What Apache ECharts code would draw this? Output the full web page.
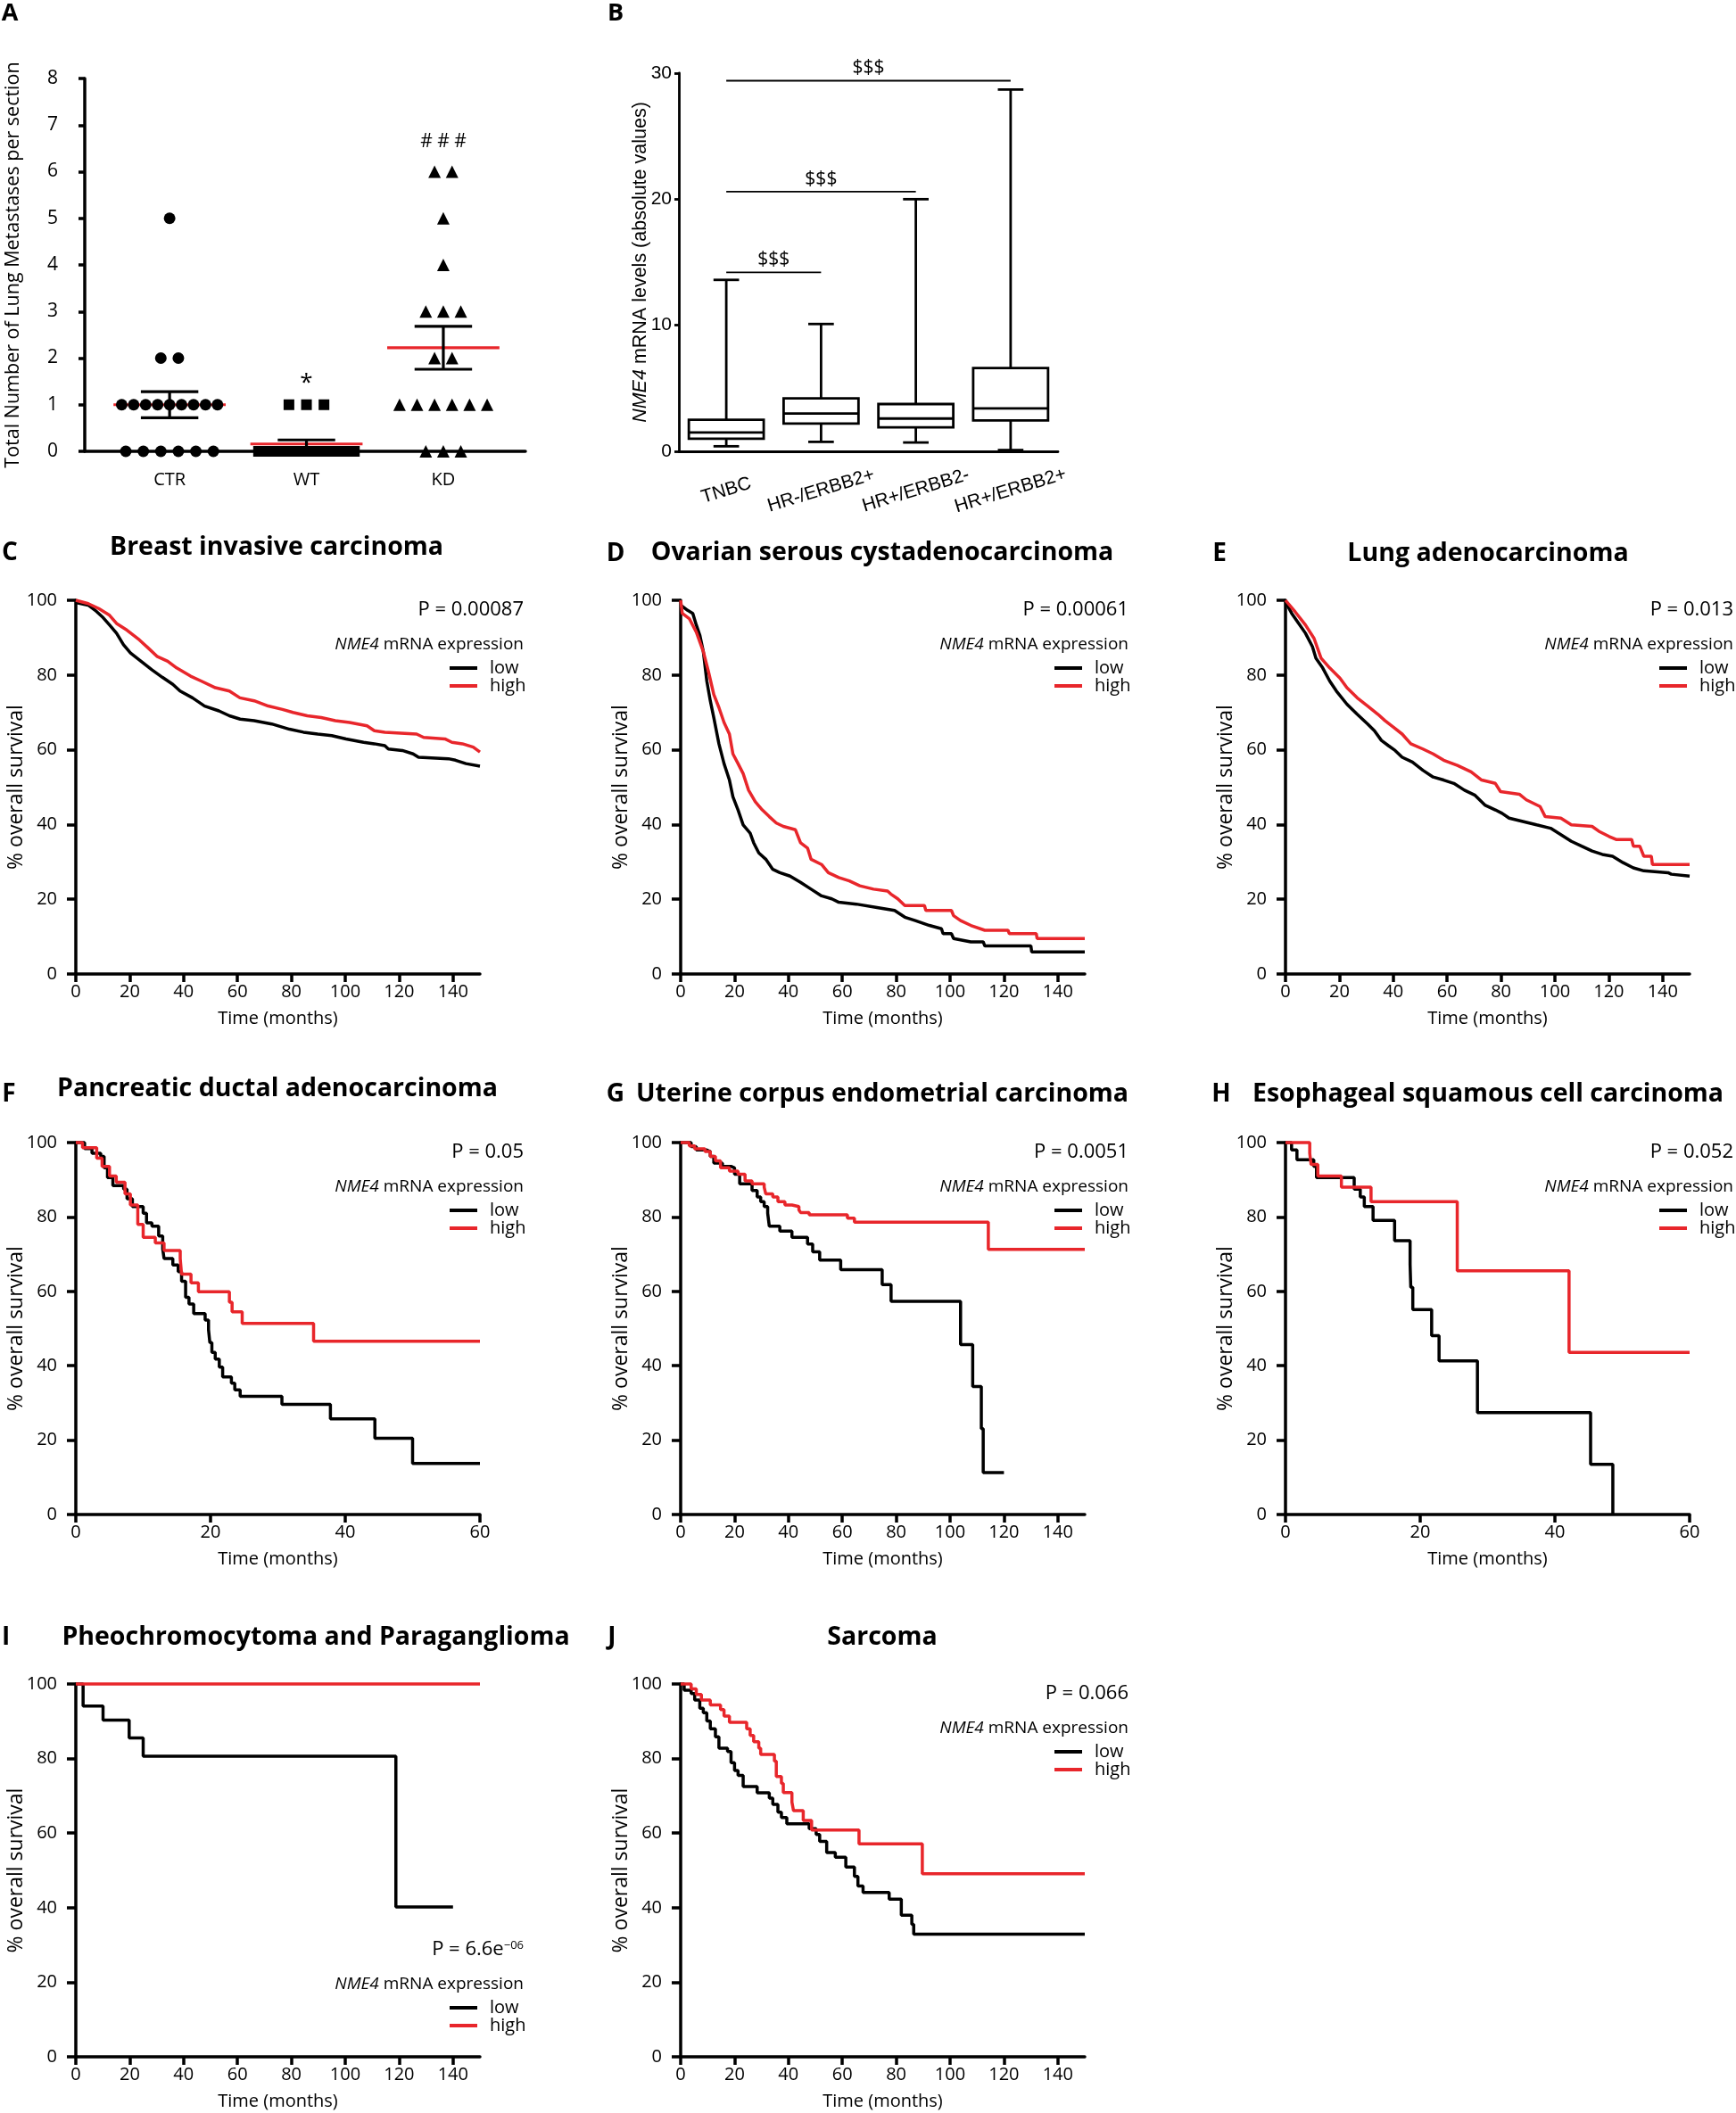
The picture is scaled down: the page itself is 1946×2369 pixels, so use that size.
<!DOCTYPE html>
<html>
<head>
<meta charset="utf-8">
<script src="https://cdn.jsdelivr.net/npm/echarts@6/dist/echarts.min.js"></script>
<style>
  html, body { margin: 0; padding: 0; background: #fff; }
  #chart { width: 1946px; height: 2369px; }
</style>
</head>
<body>
<div id="chart"></div>
<script>
// ---------- Panel A: lung metastases per section ----------
const groupsA = ['CTR', 'WT', 'KD'];
const ctrValues = [5, 2, 2, 1, 1, 1, 1, 1, 1, 1, 1, 1, 0, 0, 0, 0, 0, 0];
const wtValues = [1, 1, 1, 0, 0, 0, 0, 0, 0, 0, 0, 0, 0, 0, 0, 0, 0, 0, 0];
const kdValues = [6, 6, 5, 4, 3, 3, 3, 2, 2, 1, 1, 1, 1, 1, 1, 0, 0, 0];
const marksA = [[2, 1.47], [3, 6.65]];
const marksAText = ['*', '# # #'];

// ---------- Panel B: NME4 mRNA by subtype [min, Q1, median, Q3, max] ----------
const subtypes = ['TNBC', 'HR-/ERBB2+', 'HR+/ERBB2-', 'HR+/ERBB2+'];
const boxTNBC = [0.4, 1.0, 1.5, 2.5, 13.6];
const boxHRnegERBB2pos = [0.75, 2.2, 3.0, 4.2, 10.1];
const boxHRposERBB2neg = [0.7, 1.9, 2.6, 3.75, 20.0];
const boxHRposERBB2pos = [0.1, 2.45, 3.4, 6.6, 28.7];
const sigLines = [[0, 1, 14.2], [0, 2, 20.6], [0, 3, 29.4]];

// ---------- Kaplan-Meier curves [months, % survival] ----------
const breastLow = [[0,99.4],[4.6,98.7],[7.2,97.3],[9.8,95.6],[12.5,93.4],[15.1,91.2],[17.7,88.1],[20.3,85.9],[24.2,83.7],[28.2,81.4],[32.1,79.4],[36,77.5],[38.7,75.7],[43.3,73.9],[47.8,71.7],[53.1,70.4],[57,69.1],[61,68.2],[66.2,67.8],[72.7,66.9],[79.3,65.5],[84.5,64.7],[89.8,64.2],[95,63.8],[100.3,62.9],[106.8,62],[110.8,61.6],[114.7,61.1],[116,60.2],[121.2,59.8],[125.2,58.9],[127.2,58],[138.3,57.6],[140.9,57.2],[144.8,56.3],[150,55.6]];
const breastHigh = [[0,100],[4.6,99.1],[8.5,97.8],[12.5,96],[15.1,93.8],[19,92],[23.6,89.4],[26.9,87.2],[30.1,85],[34.1,83.7],[37.4,81.9],[42.6,79.7],[46.5,78.4],[51.8,76.6],[57,75.7],[60.9,73.9],[66.2,73.1],[71.4,71.7],[76.7,70.8],[80.6,70],[85.9,69.1],[91.1,68.6],[96.3,67.8],[101.6,67.3],[108.1,66.4],[110.8,65.1],[114.7,64.7],[126.5,64.2],[129.1,63.3],[137,62.9],[139.6,62],[143.5,61.6],[147.5,60.7],[150,59.4]];
const ovarianLow = [[0,98.7],[2.6,97.3],[4.5,96.5],[5.8,93.4],[7.1,90.7],[8.4,86.3],[9.7,78.4],[11,73.1],[12.3,68.6],[14.2,61.6],[16.1,56.3],[18.1,51.9],[19.4,47.4],[21.3,43.9],[23.2,39.9],[25.8,37.7],[27.1,35.1],[29,32.4],[31.6,30.7],[34.2,28],[36.8,27.1],[40.6,26.2],[44.5,24.5],[48.4,22.7],[52.3,20.9],[56.1,20.1],[58.7,19.2],[65.2,18.7],[72.9,17.8],[79.4,17],[83.2,15.2],[87.1,14.3],[92.3,13],[96.8,12.1],[97.4,10.8],[100.5,10.8],[101.3,9.5],[107.7,8.6],[112.3,8.6],[112.9,7.5],[130,7.5],[130.3,5.9],[150,5.9]];
const ovarianHigh = [[0,100],[0.6,96.5],[3.2,95.1],[5.8,91.5],[8.4,86.3],[10.3,81],[12.3,74.8],[14.2,71.3],[16.1,67.3],[18.1,64.2],[19.4,58.9],[21.3,56.3],[23.2,53.6],[25.2,49.2],[27.7,46.1],[30.3,43.9],[32.9,42.1],[35.5,40.4],[38.1,39.5],[42.6,38.6],[44.5,35.1],[47.1,33.7],[48.4,30.7],[52.3,29.3],[54.8,27.1],[58.7,25.8],[62.6,24.9],[66.5,23.6],[71.6,22.7],[76.8,22.2],[78,21.4],[80.6,20.1],[83.2,18.3],[90.5,18.3],[91,17],[100.5,17],[101.3,15.6],[103.9,14.3],[107.7,13],[112.9,11.7],[121.5,11.7],[122,10.8],[132,10.8],[132.3,9.5],[150,9.5]];
const lungLow = [[0,99.6],[2.3,96.5],[4.9,93.8],[7.4,91.2],[10,87.6],[11.3,84.5],[13.8,81.9],[16.4,78.4],[18.9,75.7],[22.8,72.2],[26.6,69.5],[30.5,66.9],[33,65.1],[35.6,62.5],[38.2,61.1],[40.7,59.8],[43.3,58],[47.1,56.7],[51,54.5],[54.8,52.7],[58.7,51.9],[62.5,51],[66.4,49.2],[70.2,47.9],[74,45.2],[77.9,43.9],[80.4,43],[83,41.7],[88.1,40.8],[93.2,39.9],[98.4,39],[102.2,37.3],[106.1,35.5],[109.9,34.2],[113.8,32.9],[117.6,32],[121.4,31.5],[125.3,29.8],[129.1,28.4],[133,27.6],[142,27.1],[143.2,26.7],[150,26.2]];
const lungHigh = [[0,100],[3.6,96.9],[7.4,93.4],[10.6,89.8],[13.2,84.5],[16.4,81.9],[20.2,79.2],[22.8,76.6],[26.6,73.9],[30.5,71.7],[34.3,69.5],[36.9,67.8],[40.1,66],[43.3,64.2],[46.5,61.6],[51,60.2],[54.8,58.9],[58.7,57.2],[63.8,55.8],[68.9,54.1],[72.8,51.9],[77.9,51],[79.8,48.8],[86.8,48.1],[89.4,46.6],[94.5,44.8],[96.4,42.1],[102.2,41.7],[106.1,39.9],[113.8,39.5],[116.3,38.2],[120.1,36.8],[122.7,36],[128.5,36],[129.1,34.2],[131.5,34.2],[133,31.5],[135.8,31.5],[136.2,29.3],[150,29.3]];
const pancreasLow = [[0,100],[1.3,98.4],[2.4,97.1],[3.7,96.3],[4.2,93.2],[4.7,90.6],[5.5,88.4],[7.1,87.5],[7.6,84.9],[8.4,82.8],[10,81],[10.5,78.4],[11.3,77.5],[12.3,74.9],[12.9,71.4],[13.1,68.8],[14.4,67.1],[15.2,65.3],[15.7,62.7],[16.3,58.4],[16.8,56.6],[17.5,54],[19.2,52.3],[19.7,49.7],[19.9,46.2],[20.2,43.6],[20.7,41.8],[21.3,39.6],[21.8,37],[23.1,35.3],[23.6,33.5],[24.4,31.8],[30.6,29.6],[37.8,25.7],[44.4,20.5],[50,13.7],[60,13.7]];
const pancreasHigh = [[0,100],[1,98.6],[3.1,95.8],[3.9,93.6],[5,91],[6,89.3],[7.3,86.2],[8.1,83.2],[9.2,78],[10,74.5],[11.8,73],[13.1,71],[15.5,68.8],[15.7,64.6],[17.1,62.3],[18.2,59.9],[22.8,57.1],[23.2,54.5],[24.7,51.4],[35.3,46.6],[60,46.6]];
const uterineLow = [[0,100],[3.9,98.9],[5.8,98],[9.7,97.6],[11,96.3],[12.3,94.5],[15.5,93.6],[18.7,93.2],[20,91.5],[21.9,88.9],[26.5,87.1],[28.4,85.4],[29.7,84.1],[31,82.8],[32.3,81],[32.9,77.5],[36.8,76.2],[41.3,74.5],[47.1,72.7],[49,70.6],[51.6,68.4],[59.4,65.8],[74.8,61.8],[78.1,57.3],[103.9,45.7],[108.4,34.4],[111.6,23.1],[112.3,11.3],[120,11.3]];
const uterineHigh = [[0,100],[3.2,99.1],[5.2,98.3],[9,97.6],[11,96.3],[12.9,95.1],[14.8,93.2],[18.1,92.3],[21.3,91.5],[23.9,89.7],[26.5,88.9],[31,88],[31.6,86.2],[34.2,85.4],[36.1,84.1],[38.7,83.2],[41.3,82.8],[43.9,81.9],[44.5,81.2],[47.7,80.6],[61.9,79.7],[64.5,78.6],[114.2,71.3],[150,71.3]];
const esophagusLow = [[0,100],[0.9,98],[1.7,95.4],[4.2,93.6],[4.6,90.6],[10.2,87.5],[11.1,85.4],[11.7,82.8],[13,79.1],[16.2,73.6],[18.5,67.2],[18.6,61.1],[18.9,55.1],[21.7,48.1],[22.8,41.3],[28.5,27.4],[45.3,13.5],[48.6,0]];
const esophagusHigh = [[0,100],[3.6,97.1],[3.8,94.1],[4.8,91],[8.3,88],[12.7,84.1],[25.5,65.5],[42.1,43.6],[60,43.6]];
const pheoLow = [[0,100],[2.7,94.1],[10.1,90.3],[19.8,85.5],[25,80.6],[118.8,40.2],[140,40.2]];
const pheoHigh = [[0,100],[150,100]];
const sarcomaLow = [[0,100],[1.3,98.3],[3.9,97.4],[5.2,95.7],[7.1,93.5],[8.4,92.3],[9.7,90.1],[11,88],[12.9,85.8],[14.2,82.8],[17.4,81.9],[18.7,78.9],[20,76.8],[21.3,75.5],[23.2,72.5],[28.4,70.8],[32.9,69.4],[34.2,67.7],[36.1,65.6],[37.4,64.2],[39.4,62.5],[47.7,61.2],[50.3,59.6],[51.6,57.8],[54.2,54.8],[57.4,53.5],[61.3,50.9],[64.5,48.4],[65.8,45.8],[67.7,44.1],[77.4,42.3],[81.9,38],[85.8,35.5],[86.5,32.9],[150,32.9]];
const sarcomaHigh = [[0,100],[3.9,98.7],[5.8,97.2],[7.7,95.7],[11,94.4],[14.8,93.1],[16.1,91.4],[18.1,89.7],[24.5,88],[25.8,86.2],[27.1,84.5],[29,82.8],[29.7,81.1],[34.8,79.3],[35.5,75.2],[37.4,73.3],[38.1,70.9],[41.3,68.3],[41.9,66],[45.5,63.4],[48.6,60.8],[66.2,57.1],[89.7,49.1],[150,49.1]];
const ticks150 = [0, 20, 40, 60, 80, 100, 120, 140];
const ticks60 = [0, 20, 40, 60];

const FONT = '"Open Sans", Lato, sans-serif';
const ARIAL = '"Liberation Sans", Arial, sans-serif';
const RED = '#e8262b';

const grids = [], xAxes = [], yAxes = [], series = [], legends = [], texts = [];

function txt(x, y, text, size, extra) {
  return { type: 'text', x, y, silent: true, z: 10,
    style: Object.assign({ text, fontSize: size, fontFamily: FONT, fill: '#000', align: 'left', verticalAlign: 'middle' }, extra || {}) };
}
const axisLine = w => ({ show: true, onZero: false, lineStyle: { color: '#000', width: w } });

// ---------- Panel A ----------
function jitter(values, center) {
  const counts = {}, seen = {};
  values.forEach(v => { counts[v] = (counts[v] || 0) + 1; });
  return values.map(v => {
    const n = counts[v];
    seen[v] = (seen[v] === undefined ? -1 : seen[v]) + 1;
    const step = n > 1 ? Math.min(0.128, 0.70 / (n - 1)) : 0;
    return [center + (seen[v] - (n - 1) / 2) * step, v];
  });
}
function meanSem(vals) {
  const n = vals.length;
  const m = vals.reduce((a, b) => a + b, 0) / n;
  const sd = Math.sqrt(vals.reduce((a, b) => a + (b - m) * (b - m), 0) / (n - 1));
  return [m, sd / Math.sqrt(n)];
}

grids.push({ left: 95, top: 88, width: 494, height: 418, outerBoundsMode: 'none' });
xAxes.push({
  gridIndex: 0, type: 'value', min: 0.38, max: 3.6,
  axisLine: axisLine(3.5), axisTick: { show: false }, splitLine: { show: false },
  axisLabel: { customValues: [1, 2, 3], formatter: v => groupsA[Math.round(v) - 1],
    fontSize: 20, fontFamily: FONT, color: '#000', margin: 22 }
});
yAxes.push({
  gridIndex: 0, type: 'value', min: 0, max: 8, interval: 1,
  axisLine: axisLine(3.5), axisTick: { show: true, length: 7, lineStyle: { color: '#000', width: 3.5 } },
  splitLine: { show: false },
  axisLabel: { fontSize: 21, fontFamily: FONT, color: '#000', margin: 30 },
  name: 'Total Number of Lung Metastases per section', nameLocation: 'middle', nameGap: 69,
  nameMoveOverlap: false,
  nameTextStyle: { fontSize: 21.5, fontFamily: FONT, color: '#000' }
});
const groupVals = [ctrValues, wtValues, kdValues];
series.push({
  type: 'custom', xAxisIndex: 0, yAxisIndex: 0, z: 1,
  data: groupVals.map((vals, i) => [i + 1].concat(meanSem(vals))),
  encode: { x: 0, y: 1 },
  renderItem: (params, api) => {
    const x = api.value(0), m = api.value(1), s = api.value(2);
    const seg = (a, b, c, d, color) => {
      const p1 = api.coord([a, b]), p2 = api.coord([c, d]);
      return { type: 'line', shape: { x1: p1[0], y1: p1[1], x2: p2[0], y2: p2[1] }, style: { stroke: color, lineWidth: 3.2 } };
    };
    return { type: 'group', children: [
      seg(x - 0.41, m, x + 0.41, m, RED),
      seg(x, m - s, x, m + s, '#000'),
      seg(x - 0.21, m + s, x + 0.21, m + s, '#000'),
      seg(x - 0.21, m - s, x + 0.21, m - s, '#000')
    ] };
  }
});
const symbolsA = [['circle', 13], ['rect', 12], ['triangle', 14]];
groupVals.forEach((vals, i) => {
  series.push({
    type: 'scatter', xAxisIndex: 0, yAxisIndex: 0, z: 3, clip: false,
    symbol: symbolsA[i][0], symbolSize: symbolsA[i][1],
    itemStyle: { color: '#000', opacity: 1 }, data: jitter(vals, i + 1)
  });
});
series.push({
  type: 'custom', xAxisIndex: 0, yAxisIndex: 0, z: 4, data: marksA, encode: { x: 0, y: 1 },
  renderItem: (params, api) => {
    const c = api.coord([api.value(0), api.value(1)]);
    return { type: 'text', x: c[0], y: c[1],
      style: { text: marksAText[params.dataIndex], fontSize: params.dataIndex === 0 ? 26 : 21,
        fontFamily: FONT, fill: '#000', align: 'center', verticalAlign: 'middle' } };
  }
});
texts.push(txt(11, 15, 'A', 27, { fontWeight: 'bold', align: 'center' }));

// ---------- Panel B ----------
grids.push({ left: 761, top: 82, width: 425, height: 424, outerBoundsMode: 'none' });
xAxes.push({
  gridIndex: 1, type: 'category', data: subtypes, boundaryGap: true,
  axisLine: axisLine(2.8), axisTick: { show: false }, splitLine: { show: false },
  axisLabel: { rotate: 17, align: 'center', verticalAlign: 'middle', margin: 44,
    fontSize: 21, fontFamily: ARIAL, color: '#000' }
});
yAxes.push({
  gridIndex: 1, type: 'value', min: 0, max: 30, interval: 10,
  axisLine: axisLine(2.8), axisTick: { show: true, length: 5, lineStyle: { color: '#000', width: 2.8 } },
  splitLine: { show: false },
  axisLabel: { fontSize: 21, fontFamily: ARIAL, color: '#000', margin: 8 },
  name: '{i|NME4} mRNA levels (absolute values)', nameLocation: 'middle', nameGap: 32,
  nameMoveOverlap: false,
  nameTextStyle: { fontSize: 21.5, fontFamily: ARIAL, color: '#000',
    rich: { i: { fontStyle: 'italic', fontSize: 21.5, fontFamily: ARIAL, color: '#000' } } }
});
const boxData = [boxTNBC, boxHRnegERBB2pos, boxHRposERBB2neg, boxHRposERBB2pos];
series.push({
  type: 'custom', xAxisIndex: 1, yAxisIndex: 1, z: 2,
  data: boxData.map((b, i) => [i].concat(b)),
  encode: { x: 0, y: [1, 2, 3, 4, 5] },
  renderItem: (params, api) => {
    const i = api.value(0);
    const band = api.size([1, 0])[0];
    const hw = band * 0.395, cw = band * 0.135;
    const cx = api.coord([i, 0])[0];
    const yv = d => api.coord([i, api.value(d)])[1];
    const yMin = yv(1), yQ1 = yv(2), yMed = yv(3), yQ3 = yv(4), yMax = yv(5);
    const ln = (x1, y1, x2, y2) => ({ type: 'line', shape: { x1, y1, x2, y2 }, style: { stroke: '#000', lineWidth: 2.8 } });
    return { type: 'group', children: [
      ln(cx, yMax, cx, yQ3), ln(cx, yQ1, cx, yMin),
      ln(cx - cw, yMax, cx + cw, yMax), ln(cx - cw, yMin, cx + cw, yMin),
      { type: 'rect', shape: { x: cx - hw, y: yQ3, width: 2 * hw, height: yQ1 - yQ3 }, style: { stroke: '#000', lineWidth: 2.8, fill: '#fff' } },
      ln(cx - hw, yMed, cx + hw, yMed)
    ] };
  }
});
series.push({
  type: 'custom', xAxisIndex: 1, yAxisIndex: 1, z: 3,
  data: sigLines, encode: { x: 0, y: 2 },
  renderItem: (params, api) => {
    const a = api.coord([api.value(0), api.value(2)]);
    const b = api.coord([api.value(1), api.value(2)]);
    return { type: 'group', children: [
      { type: 'line', shape: { x1: a[0], y1: a[1], x2: b[0], y2: b[1] }, style: { stroke: '#000', lineWidth: 1.8 } },
      { type: 'text', x: (a[0] + b[0]) / 2, y: a[1] - 14,
        style: { text: '$$$', fontSize: 21, fontFamily: FONT, fill: '#000', align: 'center', verticalAlign: 'middle' } }
    ] };
  }
});
texts.push(txt(690, 15, 'B', 27, { fontWeight: 'bold', align: 'center' }));

// ---------- Kaplan-Meier panels ----------
const kmPanels = [
  { letter: 'C', lx: 11, title: 'Breast invasive carcinoma', tx: 310, ty: 614, ly: 620, low: breastLow, high: breastHigh, p: 'P = 0.00087', xMax: 150, stepped: false, left: 85, top: 673, height: 419 },
  { letter: 'D', lx: 690, title: 'Ovarian serous cystadenocarcinoma', tx: 989, ty: 620, ly: 621, low: ovarianLow, high: ovarianHigh, p: 'P = 0.00061', xMax: 150, stepped: false, left: 763, top: 673, height: 419 },
  { letter: 'E', lx: 1367, title: 'Lung adenocarcinoma', tx: 1668, ty: 621, ly: 621, low: lungLow, high: lungHigh, p: 'P = 0.013', xMax: 150, stepped: false, left: 1441, top: 673, height: 419 },
  { letter: 'F', lx: 10, title: 'Pancreatic ductal adenocarcinoma', tx: 311, ty: 1221, ly: 1227, low: pancreasLow, high: pancreasHigh, p: 'P = 0.05', xMax: 60, stepped: true, left: 85, top: 1281, height: 417 },
  { letter: 'G', lx: 690, title: 'Uterine corpus endometrial carcinoma', tx: 989, ty: 1227, ly: 1227, low: uterineLow, high: uterineHigh, p: 'P = 0.0051', xMax: 150, stepped: true, left: 763, top: 1281, height: 417 },
  { letter: 'H', lx: 1369, title: 'Esophageal squamous cell carcinoma', tx: 1668, ty: 1227, ly: 1227, low: esophagusLow, high: esophagusHigh, p: 'P = 0.052', xMax: 60, stepped: true, left: 1441, top: 1281, height: 417 },
  { letter: 'I', lx: 2, title: 'Pheochromocytoma and Paraganglioma', tx: 354, ty: 1836, ly: 1836, low: pheoLow, high: pheoHigh, p: null, xMax: 150, stepped: true, left: 85, top: 1888, height: 418, legendBottom: true },
  { letter: 'J', lx: 686, title: 'Sarcoma', tx: 989, ty: 1836, ly: 1836, low: sarcomaLow, high: sarcomaHigh, p: 'P = 0.066', xMax: 150, stepped: true, left: 763, top: 1888, height: 418 }
];

kmPanels.forEach((k, n) => {
  const gi = n + 2;
  const L = k.left, T = k.top;
  const ticks = k.xMax === 60 ? ticks60 : ticks150;
  grids.push({ left: L, top: T, width: 453, height: k.height, outerBoundsMode: 'none' });
  xAxes.push({
    gridIndex: gi, type: 'value', min: 0, max: k.xMax, interval: 20,
    axisLine: axisLine(3.5),
    axisTick: { show: true, length: 9, customValues: ticks, lineStyle: { color: '#000', width: 3.5 } },
    splitLine: { show: false },
    axisLabel: { customValues: ticks, fontSize: 20, fontFamily: FONT, color: '#000', margin: 10 },
    name: 'Time (months)', nameLocation: 'middle', nameGap: 40, nameMoveOverlap: false,
    nameTextStyle: { fontSize: 20, fontFamily: FONT, color: '#000' }
  });
  yAxes.push({
    gridIndex: gi, type: 'value', min: 0, max: 100, interval: 20,
    axisLine: axisLine(3.5),
    axisTick: { show: true, length: 10, lineStyle: { color: '#000', width: 3.5 } },
    splitLine: { show: false },
    axisLabel: { fontSize: 20, fontFamily: FONT, color: '#000', margin: 21 },
    name: '% overall survival', nameLocation: 'middle', nameGap: 55, nameMoveOverlap: false,
    nameTextStyle: { fontSize: 23, fontFamily: FONT, color: '#000' }
  });
  [['low', k.low, '#000'], ['high', k.high, RED]].forEach(([name, data, color]) => {
    series.push({
      type: 'line', name, xAxisIndex: gi, yAxisIndex: gi, data,
      step: k.stepped ? 'end' : false, symbol: 'none', showSymbol: false, clip: false,
      lineStyle: { color, width: 3.5 }, itemStyle: { color }, z: name === 'high' ? 3 : 2
    });
  });
  // legend block
  const base = k.legendBottom ? T + 287 : T;
  if (k.p) {
    texts.push(txt(L + 502, base + 11, k.p, 22, { align: 'right' }));
  } else {
    texts.push(txt(L + 502, base + 11, '{n|P = 6.6e}{s|\u221206}', 22, {
      align: 'right',
      rich: { n: { fontSize: 22, fontFamily: FONT, fill: '#000' }, s: { fontSize: 13, fontFamily: FONT, fill: '#000', verticalAlign: 'top' } }
    }));
  }
  texts.push(txt(L + 502, base + 50, '{i|NME4} mRNA expression', 19, {
    align: 'right', rich: { i: { fontStyle: 'italic', fontSize: 19, fontFamily: FONT, fill: '#000' } }
  }));
  legends.push({
    left: L + 419, top: base + 66, orient: 'vertical', data: ['low', 'high'],
    icon: 'rect', itemWidth: 31, itemHeight: 4, itemGap: 0, padding: 0, selectedMode: false,
    itemStyle: { borderWidth: 0 },
    textStyle: { fontSize: 20, fontFamily: FONT, color: '#000', lineHeight: 20, padding: [0, 0, 0, 9] }
  });
  texts.push(txt(k.tx, k.ty, k.title, 28.5, { fontWeight: 'bold', align: 'center' }));
  texts.push(txt(k.lx, k.ly, k.letter, 28, { fontWeight: 'bold', align: k.letter === 'I' ? 'left' : 'center' }));
});

const chart = echarts.init(document.getElementById('chart'));
chart.setOption({
  animation: false,
  backgroundColor: '#fff',
  textStyle: { fontFamily: FONT },
  grid: grids,
  xAxis: xAxes,
  yAxis: yAxes,
  legend: legends,
  series: series,
  graphic: texts
});
window.addEventListener('resize', () => chart.resize());
</script>
</body>
</html>
